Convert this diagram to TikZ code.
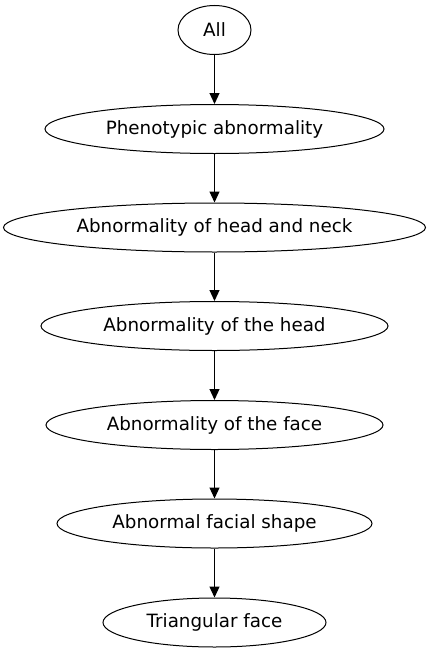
\documentclass[tikz,border=0pt]{standalone}
\usepackage{fontspec}
\setmainfont{DejaVu Sans}
\usetikzlibrary{shapes.geometric,arrows.meta}
\begin{document}
\begin{tikzpicture}[x=1pt,y=1pt,
  term/.style={ellipse,draw,line width=1pt,inner sep=0pt,minimum height=49pt,
    font=\fontsize{18.3pt}{22pt}\selectfont},
  link/.style={line width=1.2pt,-{Triangle[length=11pt,width=10pt]}}]
\useasboundingbox (0,0) rectangle (429,-653);
\node[term,minimum width=73pt]  (all)  at (214.5,-30)   {All};
\node[term,minimum width=339pt] (phen) at (214.5,-129)  {Phenotypic abnormality};
\node[term,minimum width=422pt] (hn)   at (214.5,-227.5){Abnormality of head and neck};
\node[term,minimum width=347pt] (head) at (214.5,-326)  {Abnormality of the head};
\node[term,minimum width=337pt] (face) at (214.5,-425)  {Abnormality of the face};
\node[term,minimum width=315pt] (fs)   at (214.5,-523.5){Abnormal facial shape};
\node[term,minimum width=223pt] (tri)  at (214.5,-622.5){Triangular face};
\draw[link] (all) -- (phen);
\draw[link] (phen) -- (hn);
\draw[link] (hn) -- (head);
\draw[link] (head) -- (face);
\draw[link] (face) -- (fs);
\draw[link] (fs) -- (tri);
\end{tikzpicture}
\end{document}
